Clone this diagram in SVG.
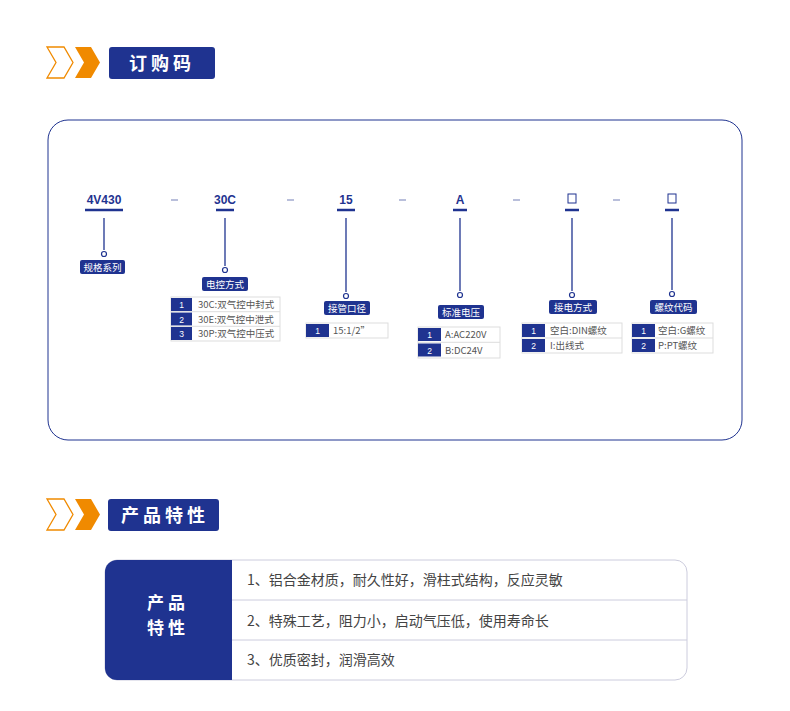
<svg xmlns="http://www.w3.org/2000/svg" width="790" height="711" viewBox="0 0 790 711">
<style>
.c{font-family:"Liberation Sans","Noto Sans CJK SC",sans-serif;font-weight:bold;font-size:12px;fill:#1f3390;text-anchor:middle}
.u{stroke:#1f3390;stroke-width:2.5}
.d{stroke:#8a95c4;stroke-width:1.2}
.v{stroke:#1f3390;stroke-width:1.3}
.o{fill:#fff;stroke:#1f3390;stroke-width:1.2}
.lb{fill:#1f3390}
.lt{font-family:"Noto Sans CJK SC",sans-serif;font-size:9.5px;fill:#fff;text-anchor:middle}
.tb{fill:#fff;stroke:#ddd;stroke-width:1}
.n{font-family:"Liberation Sans",sans-serif;font-size:8.5px;fill:#fff;text-anchor:middle}
.t{font-family:"Noto Sans CJK SC",sans-serif;font-size:9.5px;fill:#555}
.h{font-family:"Noto Sans CJK SC",sans-serif;font-size:18px;font-weight:bold;fill:#fff;text-anchor:middle;letter-spacing:4px}
.f{font-family:"Noto Sans CJK SC",sans-serif;font-size:14px;fill:#444}
</style>
<rect width="790" height="711" fill="#fff"/>
<g id="header1">
<path d="M47 47 H64 L73 62.5 L64 78 H47 L56 62.5 Z" fill="none" stroke="#f08a00" stroke-width="1.3"/>
<path d="M75 47 H91 L100 62.5 L91 78 H75 L84 62.5 Z" fill="#f08a00"/>
<rect x="109" y="47" width="106" height="32" rx="3" fill="#1f3390"/>
<text x="162" y="70" class="h">订购码</text>
</g>
<rect x="48" y="120" width="694" height="320" rx="20" fill="none" stroke="#1f3390" stroke-width="1"/>
<g id="codes">
<text x="104" y="204" class="c">4V430</text><line x1="85" y1="210" x2="123" y2="210" class="u"/>
<text x="225" y="204" class="c">30C</text><line x1="216" y1="210" x2="234" y2="210" class="u"/>
<text x="346" y="204" class="c">15</text><line x1="337" y1="210" x2="355" y2="210" class="u"/>
<text x="460" y="204" class="c">A</text><line x1="453" y1="210" x2="467" y2="210" class="u"/>
<rect x="568" y="194" width="8" height="9" fill="none" stroke="#1f3390" stroke-width="1"/><line x1="565" y1="210" x2="579" y2="210" class="u"/>
<rect x="668" y="194" width="8" height="9" fill="none" stroke="#1f3390" stroke-width="1"/><line x1="665" y1="210" x2="679" y2="210" class="u"/>
<line x1="171" y1="200" x2="178" y2="200" class="d"/>
<line x1="287" y1="200" x2="294" y2="200" class="d"/>
<line x1="399" y1="200" x2="406" y2="200" class="d"/>
<line x1="513" y1="200" x2="520" y2="200" class="d"/>
<line x1="613" y1="200" x2="620" y2="200" class="d"/>
</g>
<g id="connectors">
<line x1="104" y1="218" x2="104" y2="250" class="v"/><circle cx="104" cy="254" r="2.5" class="o"/>
<line x1="225" y1="218" x2="225" y2="266" class="v"/><circle cx="225" cy="270" r="2.5" class="o"/>
<line x1="346" y1="218" x2="346" y2="292" class="v"/><circle cx="346" cy="296" r="2.5" class="o"/>
<line x1="460" y1="218" x2="460" y2="291" class="v"/><circle cx="460" cy="295" r="2.5" class="o"/>
<line x1="572" y1="218" x2="572" y2="291" class="v"/><circle cx="572" cy="295" r="2.5" class="o"/>
<line x1="672" y1="218" x2="672" y2="290" class="v"/><circle cx="672" cy="294" r="2.5" class="o"/>
</g>
<g id="n1"><rect x="80" y="260" width="45" height="14" rx="2" class="lb"/><text x="102.5" y="271" class="lt">规格系列</text></g>
<g id="n2"><rect x="202" y="277" width="46" height="14" rx="2" class="lb"/><text x="225" y="288" class="lt">电控方式</text>
<rect x="171" y="297" width="109" height="44" class="tb"/>
<rect x="171" y="298" width="21" height="13" class="lb"/><rect x="171" y="312.5" width="21" height="13" class="lb"/><rect x="171" y="327" width="21" height="13" class="lb"/>
<line x1="171" y1="311.7" x2="280" y2="311.7" stroke="#ddd"/><line x1="171" y1="326.3" x2="280" y2="326.3" stroke="#ddd"/>
<text x="181.5" y="308" class="n">1</text><text x="181.5" y="322.5" class="n">2</text><text x="181.5" y="337" class="n">3</text>
<text x="198" y="308" class="t">30C:双气控中封式</text><text x="198" y="322.5" class="t">30E:双气控中泄式</text><text x="198" y="337" class="t">30P:双气控中压式</text></g>
<g id="n3"><rect x="324" y="301" width="46" height="14" rx="2" class="lb"/><text x="347" y="312" class="lt">接管口径</text>
<rect x="306" y="323" width="82" height="15" class="tb"/><rect x="306" y="324" width="23" height="13" class="lb"/>
<text x="317.5" y="334" class="n">1</text><text x="333" y="334" class="t">15:1/2”</text></g>
<g id="n4"><rect x="438" y="305" width="46" height="14" rx="2" class="lb"/><text x="461" y="316" class="lt">标准电压</text>
<rect x="418" y="327" width="82" height="31" class="tb"/><rect x="418" y="328" width="23" height="13" class="lb"/><rect x="418" y="343.5" width="23" height="13" class="lb"/>
<line x1="418" y1="342.3" x2="500" y2="342.3" stroke="#ddd"/>
<text x="429.5" y="338" class="n">1</text><text x="429.5" y="353.5" class="n">2</text>
<text x="445" y="338" class="t">A:AC220V</text><text x="445" y="353.5" class="t">B:DC24V</text></g>
<g id="n5"><rect x="549" y="300" width="48" height="14" rx="2" class="lb"/><text x="573" y="311" class="lt">接电方式</text>
<rect x="522" y="323" width="100" height="30" class="tb"/><rect x="522" y="324" width="23" height="13" class="lb"/><rect x="522" y="339" width="23" height="13" class="lb"/>
<line x1="522" y1="338" x2="622" y2="338" stroke="#ddd"/>
<text x="533.5" y="334" class="n">1</text><text x="533.5" y="349" class="n">2</text>
<text x="550" y="334" class="t">空白:DIN螺纹</text><text x="550" y="349" class="t">I:出线式</text></g>
<g id="n6"><rect x="650" y="300" width="47" height="14" rx="2" class="lb"/><text x="673.5" y="311" class="lt">螺纹代码</text>
<rect x="632" y="323" width="81" height="30" class="tb"/><rect x="632" y="324" width="23" height="13" class="lb"/><rect x="632" y="339" width="23" height="13" class="lb"/>
<line x1="632" y1="338" x2="713" y2="338" stroke="#ddd"/>
<text x="643.5" y="334" class="n">1</text><text x="643.5" y="349" class="n">2</text>
<text x="658" y="334" class="t">空白:G螺纹</text><text x="658" y="349" class="t">P:PT螺纹</text></g>
<g id="header2">
<path d="M47 499 H64 L73 514.5 L64 530 H47 L56 514.5 Z" fill="none" stroke="#f08a00" stroke-width="1.3"/>
<path d="M75 499 H91 L100 514.5 L91 530 H75 L84 514.5 Z" fill="#f08a00"/>
<rect x="108" y="499" width="111" height="32" rx="3" fill="#1f3390"/>
<text x="165" y="522" class="h">产品特性</text>
</g>
<g id="features">
<rect x="105" y="560" width="582" height="120" rx="12" fill="#fff" stroke="#ccd" stroke-width="1"/>
<path d="M117 560 H232 V680 H117 A12 12 0 0 1 105 668 V572 A12 12 0 0 1 117 560 Z" fill="#1f3390"/>
<line x1="232" y1="600" x2="687" y2="600" stroke="#ccd"/>
<line x1="232" y1="640" x2="687" y2="640" stroke="#ccd"/>
<text x="168" y="609" class="h" style="font-size:17px">产品</text>
<text x="168" y="634" class="h" style="font-size:17px">特性</text>
<text x="247" y="585" class="f">1、铝合金材质，耐久性好，滑柱式结构，反应灵敏</text>
<text x="247" y="626" class="f">2、特殊工艺，阻力小，启动气压低，使用寿命长</text>
<text x="247" y="665" class="f">3、优质密封，润滑高效</text>
</g>
</svg>
